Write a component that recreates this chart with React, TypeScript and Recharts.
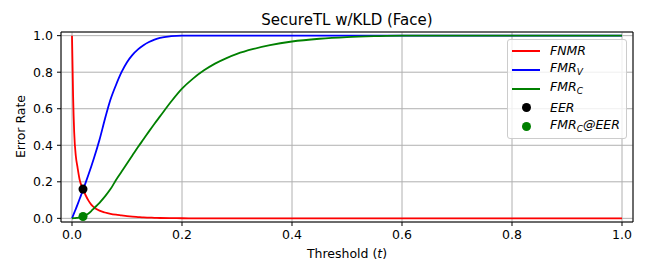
import React from "react"
import {
  ComposedChart,
  Line,
  Scatter,
  XAxis,
  YAxis,
  CartesianGrid,
  ReferenceArea,
  Legend,
  Customized,
} from "recharts"

// threshold grid and the three curves
const thresholds = [
  0, 0.002, 0.004, 0.007, 0.01, 0.014, 0.02, 0.025, 0.03, 0.035, 0.04, 0.05, 0.06, 0.07, 0.08, 0.09, 0.1,
  0.11, 0.12, 0.13, 0.14, 0.15, 0.16, 0.18, 0.2, 0.22, 0.24, 0.26, 0.28, 0.3, 0.33, 0.36, 0.4, 0.45, 0.5,
  0.55, 0.6, 0.7, 0.8, 0.9, 1.0,
]
const fnmr = [
  1.0, 0.67, 0.47, 0.34, 0.28, 0.21, 0.16, 0.125, 0.097, 0.075, 0.06, 0.042, 0.032, 0.025, 0.02, 0.016, 0.012,
  0.009, 0.007, 0.005, 0.004, 0.003, 0.002, 0.001, 0.0005, 0, 0, 0, 0, 0, 0, 0, 0, 0, 0,
  0, 0, 0, 0, 0, 0,
]
const fmrV = [
  0, 0.015, 0.03, 0.052, 0.075, 0.107, 0.155, 0.197, 0.24, 0.284, 0.33, 0.43, 0.545, 0.65, 0.73, 0.8, 0.855,
  0.895, 0.925, 0.948, 0.965, 0.978, 0.988, 0.997, 1.0, 1.0, 1.0, 1.0, 1.0, 1.0, 1.0, 1.0, 1.0, 1.0, 1.0,
  1.0, 1.0, 1.0, 1.0, 1.0, 1.0,
]
const fmrC = [
  0, 0.0005, 0.001, 0.002, 0.003, 0.005, 0.01, 0.017, 0.027, 0.04, 0.055, 0.085, 0.12, 0.16, 0.21, 0.255, 0.3,
  0.345, 0.39, 0.433, 0.476, 0.518, 0.558, 0.638, 0.71, 0.765, 0.81, 0.847, 0.876, 0.9, 0.927, 0.948, 0.968, 0.983, 0.992,
  0.997, 1.0, 1.0, 1.0, 1.0, 1.0,
]

const eerPoint = [{ t: 0.02, v: 0.16 }]
const fmrCAtEer = [{ t: 0.02, v: 0.01 }]

const ticks = [0, 0.2, 0.4, 0.6, 0.8, 1.0]

const FONT = "DejaVu Sans, sans-serif"
const RED = "#ff0000"
const BLUE = "#0000ff"
const GREEN = "#008000"

const data = thresholds.map((t, i) => ({ t, fnmr: fnmr[i], fmrV: fmrV[i], fmrC: fmrC[i] }))

const legendRows: { label: React.ReactNode; color: string; kind: "line" | "dot" }[] = [
  { label: "FNMR", color: RED, kind: "line" },
  { label: <>FMR<sub style={{ fontSize: 9, verticalAlign: -3 }}>V</sub></>, color: BLUE, kind: "line" },
  { label: <>FMR<sub style={{ fontSize: 9, verticalAlign: -3 }}>C</sub></>, color: GREEN, kind: "line" },
  { label: "EER", color: "#000", kind: "dot" },
  { label: <>FMR<sub style={{ fontSize: 9, verticalAlign: -3 }}>C</sub>@EER</>, color: GREEN, kind: "dot" },
]

function LegendBox() {
  return (
    <div
      style={{
        width: 118,
        height: 97,
        border: "1px solid #cccccc",
        borderRadius: 3,
        background: "rgba(255,255,255,0.8)",
        paddingTop: 1,
        fontFamily: FONT,
        fontSize: 12.5,
        fontStyle: "italic",
        boxSizing: "content-box",
      }}
    >
      {legendRows.map((r, i) => (
        <div key={i} style={{ display: "flex", alignItems: "center", height: 19, lineHeight: "19px" }}>
          <div style={{ width: 28, marginLeft: 4, display: "flex", justifyContent: "center", alignItems: "center" }}>
            {r.kind === "line" ? (
              <div style={{ width: 28, height: 2, background: r.color }} />
            ) : (
              <div style={{ width: 9, height: 9, borderRadius: "50%", background: r.color }} />
            )}
          </div>
          <span style={{ marginLeft: 10, whiteSpace: "nowrap" }}>{r.label}</span>
        </div>
      ))}
    </div>
  )
}

function Texts() {
  return (
    <g fontFamily={FONT} fill="#000">
      <text x={347} y={25} fontSize={15} textAnchor="middle">
        SecureTL w/KLD (Face)
      </text>
      <text x={347} y={258} fontSize={12.5} textAnchor="middle">
        Threshold (<tspan fontStyle="italic">t</tspan>)
      </text>
      <text x={24.5} y={126.5} fontSize={12.5} textAnchor="middle" transform="rotate(-90 24.5 126.5)">
        Error Rate
      </text>
    </g>
  )
}

export default function App() {
  return (
    <div style={{ position: "absolute", left: 0, top: 0, width: 648, height: 278, background: "#fff" }}>
      <ComposedChart width={648} height={278} data={data} margin={{ top: 32, right: 15, bottom: 0, left: 0 }}>
        <CartesianGrid stroke="#b0b0b0" strokeWidth={1} />
        <XAxis
          dataKey="t"
          type="number"
          domain={[-0.02, 1.02]}
          ticks={ticks}
          tickFormatter={(v: number) => v.toFixed(1)}
          height={56}
          axisLine={false}
          tickLine={{ stroke: "#000" }}
          tickSize={4}
          tickMargin={4}
          tick={{ fill: "#000", fontSize: 12.5, fontFamily: FONT }}
          allowDataOverflow
        />
        <YAxis
          type="number"
          domain={[-0.02, 1.02]}
          ticks={ticks}
          tickFormatter={(v: number) => v.toFixed(1)}
          width={61}
          axisLine={false}
          tickLine={{ stroke: "#000" }}
          tickSize={4}
          tickMargin={4}
          tick={{ fill: "#000", fontSize: 12.5, fontFamily: FONT }}
          allowDataOverflow
        />
        <Line type="monotone" dataKey="fnmr" stroke={RED} strokeWidth={1.8} dot={false} isAnimationActive={false} />
        <Line type="monotone" dataKey="fmrV" stroke={BLUE} strokeWidth={1.8} dot={false} isAnimationActive={false} />
        <Line type="monotone" dataKey="fmrC" stroke={GREEN} strokeWidth={1.8} dot={false} isAnimationActive={false} />
        <Scatter data={eerPoint} dataKey="v" fill="#000" isAnimationActive={false} />
        <Scatter data={fmrCAtEer} dataKey="v" fill={GREEN} isAnimationActive={false} />
        <ReferenceArea x1={-0.02} x2={1.02} y1={-0.02} y2={1.02} stroke="#000" strokeWidth={1} fill="none" fillOpacity={0} />
        <Legend
          layout="vertical"
          align="center"
          verticalAlign="middle"
          wrapperStyle={{ left: 507, top: 39, width: 120, height: 99 }}
          content={() => <LegendBox />}
        />
        <Customized component={<Texts />} />
      </ComposedChart>
    </div>
  )
}
